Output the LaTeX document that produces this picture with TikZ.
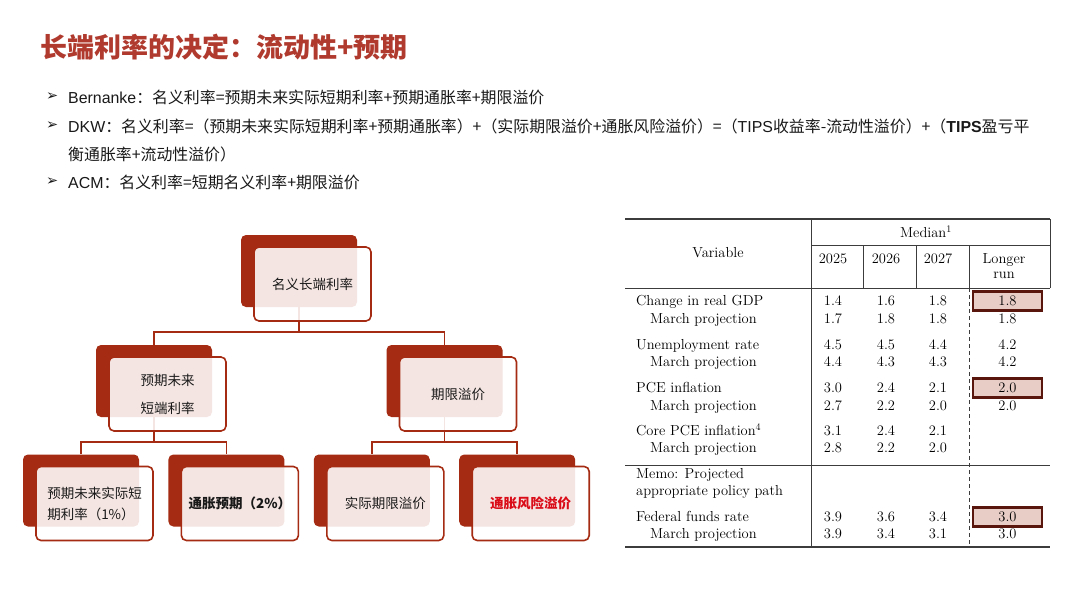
\documentclass[tikz,border=0pt]{standalone}
\usepackage{fontspec}
\newfontfamily\cjk{Noto Sans CJK SC}
\newfontfamily\lat{Liberation Sans}
\newfontfamily\sym{DejaVu Sans}
\usetikzlibrary{positioning}

\definecolor{brick}{RGB}{165,44,18}
\definecolor{titlered}{RGB}{176,58,46}
\definecolor{alertred}{RGB}{218,12,24}
\definecolor{hlfill}{RGB}{232,204,198}
\definecolor{hldraw}{RGB}{88,22,12}
\definecolor{rulegray}{RGB}{60,60,60}
\definecolor{ink}{RGB}{25,25,25}
\newcommand\tabsize{\fontsize{14.5}{17}\selectfont}

\begin{document}
\begin{tikzpicture}[
    x=1pt, y=-1pt,
    node distance=29pt,
    shbox/.style={fill=brick, rounded corners=5pt, minimum width=116pt, minimum height=72pt, inner sep=0},
    litebox/.style={draw=brick, line width=1.6pt, rounded corners=5pt, fill=white, fill opacity=0.88, text opacity=1,
      minimum width=117pt, minimum height=74pt, align=center, text=ink, font=\cjk\fontsize{13.5}{21}\selectfont},
    link/.style={draw=brick, line width=1.8pt},
    bulletline/.style={anchor=west, inner sep=0, text=ink, font=\cjk\fontsize{15.9}{18}\selectfont},
    bulletmark/.style={anchor=west, inner sep=0, text=ink, font=\sym\bfseries\fontsize{14.5}{15}\selectfont},
    cell/.style={anchor=base, inner sep=0, font=\tabsize},
    rowlbl/.style={anchor=base west, inner sep=0, font=\tabsize},
    hl/.style={draw=hldraw, fill=hlfill, line width=2.2pt, minimum width=69pt, minimum height=19pt, inner sep=0, font=\tabsize},
    rule/.style={draw=rulegray, line width=0.8pt},
    bigrule/.style={draw=rulegray, line width=1.3pt}
  ]
  \useasboundingbox[fill=white] (0,0) rectangle (1080,608);

  % title and bullets
  \node[anchor=west, inner sep=0, text=titlered, font=\cjk\bfseries\fontsize{27}{30}\selectfont] (title) at (40,47) {长端利率的决定：流动性+预期};
  \node[bulletmark] (mark1) at (46,97) {➢};
  \node[bulletline] (line1) at (68,97) {{\lat Bernanke}：名义利率=预期未来实际短期利率+预期通胀率+期限溢价};
  \node[bulletmark] (mark2) at (46,126) {➢};
  \node[bulletline] (line2) at (68,126) {{\lat DKW}：名义利率=（预期未来实际短期利率+预期通胀率）+（实际期限溢价+通胀风险溢价）=（{\lat TIPS}收益率-流动性溢价）+（{\lat\bfseries TIPS}盈亏平};
  \node[bulletline] (line3) at (68,154) {衡通胀率+流动性溢价）};
  \node[bulletmark] (mark4) at (46,182) {➢};
  \node[bulletline] (line4) at (68,182) {{\lat ACM}：名义利率=短期名义利率+期限溢价};

  % tree: dark backs
  \node[shbox] (top) at (299,271) {};
  \node[shbox] (ml) at (154,381) {};
  \node[shbox] (mr) at (444.5,381) {};
  \node[shbox] (b1) at (81,490.5) {};
  \node[shbox, right=of b1] (b2) {};
  \node[shbox, right=of b2] (b3) {};
  \node[shbox, right=of b3] (b4) {};

  \coordinate (bus1) at (0,332);
  \coordinate (bus2) at (0,442);
  \draw[link] (top.south) -- (top.south |- bus1) -| (ml.north);
  \draw[link] (top.south |- bus1) -| (mr.north);
  \draw[link] (ml.south) -- (ml.south |- bus2) -| (b1.north);
  \draw[link] (ml.south |- bus2) -| (b2.north);
  \draw[link] (mr.south) -- (mr.south |- bus2) -| (b3.north);
  \draw[link] (mr.south |- bus2) -| (b4.north);

  % tree: front boxes
  \node[litebox] (top-box) at ([shift={(13.5,13)}]top.center) {名义长端利率};
  \node[litebox, font=\cjk\fontsize{13.5}{28}\selectfont] (ml-box) at ([shift={(13.5,13)}]ml.center) {预期未来\\短端利率};
  \node[litebox] (mr-box) at ([shift={(13.5,13)}]mr.center) {期限溢价};
  \node[litebox, align=left] (b1-box) at ([shift={(13.5,13)}]b1.center) {预期未来实际短\\期利率（1\%）};
  \node[litebox, font=\cjk\bfseries\fontsize{13.5}{21}\selectfont] (b2-box) at ([shift={(13.5,13)}]b2.center) {通胀预期（2\%）};
  \node[litebox] (b3-box) at ([shift={(13.5,13)}]b3.center) {实际期限溢价};
  \node[litebox, text=alertred, font=\cjk\bfseries\fontsize{13.5}{21}\selectfont] (b4-box) at ([shift={(13.5,13)}]b4.center) {通胀风险溢价};

  % table rules
  \draw[bigrule] (625,219) -- (1050,219);
  \draw[rule] (811,245) -- (1050,245);
  \draw[rule] (625,288) -- (1050,288);
  \draw[rule] (625,465) -- (1050,465);
  \draw[bigrule] (625,547) -- (1050,547);
  \draw[rule] (811,219) -- (811,547);
  \draw[rule] (863,245) -- (863,288);
  \draw[rule] (916,245) -- (916,288);
  \draw[rule] (969,245) -- (969,288);
  \draw[rule] (1050,219) -- (1050,288);
  \draw[rule, dash pattern=on 4pt off 3pt] (969,288) -- (969,547);

  % table header
  \node[cell] (median) at (926,237.7) {Median$^1$};
  \node[cell] (variable) at (718,257.3) {Variable};
  \node[cell] (y25) at (833,263.3) {2025};
  \node[cell] (y26) at (886,263.3) {2026};
  \node[cell] (y27) at (938,263.3) {2027};
  \node[cell] (longer) at (1004,263.3) {Longer};
  \node[cell] (run) at (1004,278.7) {run};

  % table body
  \node[rowlbl] (gdp) at (636,305.7) {Change in real GDP};
  \node[cell] (gdp-a) at (833,305.7) {1.4}; \node[cell] (gdp-b) at (886,305.7) {1.6}; \node[cell] (gdp-c) at (938,305.7) {1.8};
  \node[hl] (gdp-d) at (1007.5,301) {1.8};
  \node[rowlbl] (gdp-m) at (650,323) {March projection};
  \node[cell] (gdp-ma) at (833,323) {1.7}; \node[cell] (gdp-mb) at (886,323) {1.8}; \node[cell] (gdp-mc) at (938,323) {1.8}; \node[cell] (gdp-md) at (1007.5,323) {1.8};

  \node[rowlbl] (unemp) at (636,349) {Unemployment rate};
  \node[cell] (unemp-a) at (833,349) {4.5}; \node[cell] (unemp-b) at (886,349) {4.5}; \node[cell] (unemp-c) at (938,349) {4.4}; \node[cell] (unemp-d) at (1007.5,349) {4.2};
  \node[rowlbl] (unemp-m) at (650,366.7) {March projection};
  \node[cell] (unemp-ma) at (833,366.7) {4.4}; \node[cell] (unemp-mb) at (886,366.7) {4.3}; \node[cell] (unemp-mc) at (938,366.7) {4.3}; \node[cell] (unemp-md) at (1007.5,366.7) {4.2};

  \node[rowlbl] (pce) at (636,392.7) {PCE inflation};
  \node[cell] (pce-a) at (833,392.7) {3.0}; \node[cell] (pce-b) at (886,392.7) {2.4}; \node[cell] (pce-c) at (938,392.7) {2.1};
  \node[hl] (pce-d) at (1007.5,388) {2.0};
  \node[rowlbl] (pce-m) at (650,410) {March projection};
  \node[cell] (pce-ma) at (833,410) {2.7}; \node[cell] (pce-mb) at (886,410) {2.2}; \node[cell] (pce-mc) at (938,410) {2.0}; \node[cell] (pce-md) at (1007.5,410) {2.0};

  \node[rowlbl] (core) at (636,435.3) {Core PCE inflation$^4$};
  \node[cell] (core-a) at (833,435.3) {3.1}; \node[cell] (core-b) at (886,435.3) {2.4}; \node[cell] (core-c) at (938,435.3) {2.1};
  \node[rowlbl] (core-m) at (650,452.7) {March projection};
  \node[cell] (core-ma) at (833,452.7) {2.8}; \node[cell] (core-mb) at (886,452.7) {2.2}; \node[cell] (core-mc) at (938,452.7) {2.0};

  \node[rowlbl] (memo) at (636,478.3) {Memo: Projected};
  \node[rowlbl] (memo-b) at (636,495.7) {appropriate policy path};

  \node[rowlbl] (ffr) at (636,521.7) {Federal funds rate};
  \node[cell] (ffr-a) at (833,521.7) {3.9}; \node[cell] (ffr-b) at (886,521.7) {3.6}; \node[cell] (ffr-c) at (938,521.7) {3.4};
  \node[hl] (ffr-d) at (1007.5,517) {3.0};
  \node[rowlbl] (ffr-m) at (650,538.7) {March projection};
  \node[cell] (ffr-ma) at (833,538.7) {3.9}; \node[cell] (ffr-mb) at (886,538.7) {3.4}; \node[cell] (ffr-mc) at (938,538.7) {3.1}; \node[cell] (ffr-md) at (1007.5,538.7) {3.0};
\end{tikzpicture}
\end{document}
